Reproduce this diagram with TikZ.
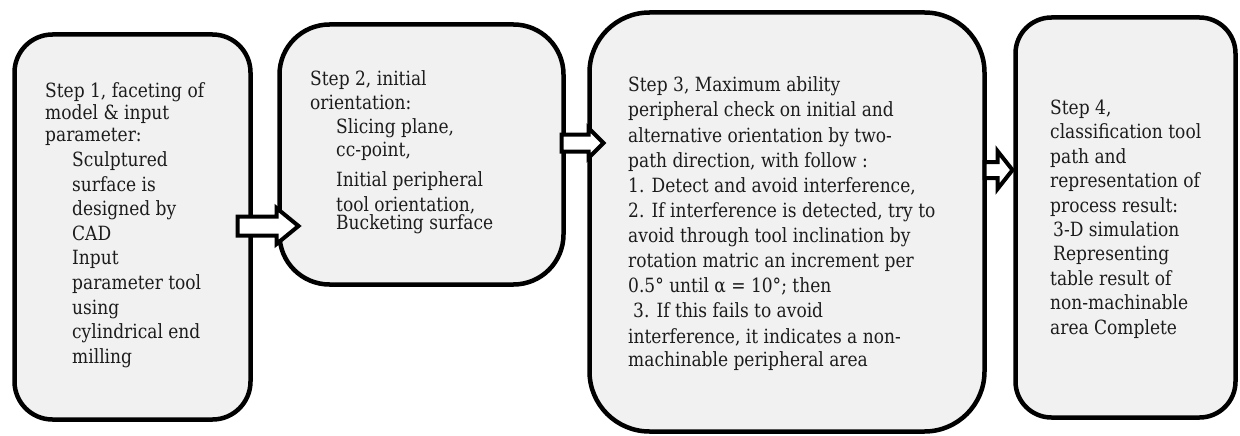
\documentclass[tikz,border=0pt]{standalone}
\usepackage{fontspec}
\setmainfont{DejaVu Serif}[FakeStretch=0.87]
\usetikzlibrary{calc}
\definecolor{boxfill}{HTML}{F1F1F1}
\definecolor{txt}{HTML}{1C1C1C}
\tikzset{
  box/.style={draw=black, line width=4.5pt, fill=boxfill, rectangle, inner sep=0pt, outer sep=0pt},
  ln/.style={anchor=base west, inner sep=0pt, text=txt, font=\fontsize{19.6}{22}\selectfont},
  barrow/.style={draw=black, line width=4pt, fill=white, line join=miter}
}
% #1 start, #2 tip, #3 shaft half, #4 head half, #5 head length
\newcommand\blockarrow[5]{%
  \draw[barrow] ($(#1)+(0,#3)$) -- ($(#2)+(-#5,#3)$) -- ($(#2)+(-#5,#4)$) -- (#2)
    -- ($(#2)+(-#5,-#4)$) -- ($(#2)+(-#5,-#3)$) -- ($(#1)+(0,-#3)$) -- cycle;}
\begin{document}
\begin{tikzpicture}[x=1pt,y=-1pt]
\useasboundingbox[fill=white] (0,0) rectangle (1240,436);
% boxes
\node[box, minimum width=236pt, minimum height=385pt, rounded corners=38pt] (b1) at (132.5,227) {};
\node[box, minimum width=284pt, minimum height=260pt, rounded corners=50pt] (b2) at (421.5,154.5) {};
\node[box, minimum width=395pt, minimum height=419pt, rounded corners=60pt] (b3) at (787,222) {};
\node[box, minimum width=220pt, minimum height=400pt, rounded corners=36pt] (b4) at (1125.5,217.5) {};
% arrows
\coordinate (a1s) at ($(b1.east)+(-13,-1)$);
\coordinate (a1e) at ($(b2.west |- a1s)+(19,0)$);
\blockarrow{a1s}{a1e}{9.5}{18}{22}
\coordinate (a2s) at ($(b2.east |- 0,143)+(-2,0)$);
\coordinate (a2e) at ($(b3.west |- a2s)+(14,0)$);
\blockarrow{a2s}{a2e}{8.5}{15}{15}
\coordinate (a3s) at ($(b3.east |- 0,170)+(0,0)$);
\coordinate (a3e) at ($(b4.west |- a3s)+(-3,0)$);
\blockarrow{a3s}{a3e}{8}{19}{15}
% text box 1
\foreach \t/\x/\y [count=\i] in {
  {Step 1, faceting of}/45/97, {model \& input}/45/119, {parameter:}/45/141,
  {Sculptured}/72/166, {surface is}/72/191, {designed by}/72/215, {CAD}/72/240,
  {Input}/72/264, {parameter tool}/72/289, {using}/72/314, {cylindrical end}/72/338,
  {milling}/72/363}
  \node[ln] (t1-\i) at (\x,\y) {\t};
% text box 2
\foreach \t/\x/\y [count=\i] in {
  {Step 2, initial}/310/85, {orientation:}/310/110, {Slicing plane,}/336/133,
  {cc-point,}/336/156, {Initial peripheral}/336/186, {tool orientation,}/336/211,
  {Bucketing surface}/336/229}
  \node[ln] (t2-\i) at (\x,\y) {\t};
% text box 3
\foreach \t/\x/\y [count=\i] in {
  {Step 3, Maximum ability}/628/92,
  {peripheral check on initial and}/628/117,
  {alternative orientation by two-}/628/142,
  {path direction, with follow :}/628/167,
  {1. Detect and avoid interference,}/628/192,
  {2. If interference is detected, try to}/628/217,
  {avoid through tool inclination by}/628/242,
  {rotation matric an increment per}/628/267,
  {0.5° until α = 10°; then}/628/292,
  {3. If this fails to avoid}/633/317,
  {interference, it indicates a non-}/628/343,
  {machinable peripheral area}/628/366}
  \node[ln] (t3-\i) at (\x,\y) {\t};
% text box 4
\foreach \t/\x/\y [count=\i] in {
  {Step 4,}/1050/114, {classification tool}/1050/138, {path and}/1050/163,
  {representation of}/1050/187, {process result:}/1050/212,
  {3-D simulation}/1053/236, {Representing}/1053/260, {table result of}/1050/285,
  {non-machinable}/1050/309, {area Complete}/1050/334}
  \node[ln] (t4-\i) at (\x,\y) {\t};
\end{tikzpicture}
\end{document}
